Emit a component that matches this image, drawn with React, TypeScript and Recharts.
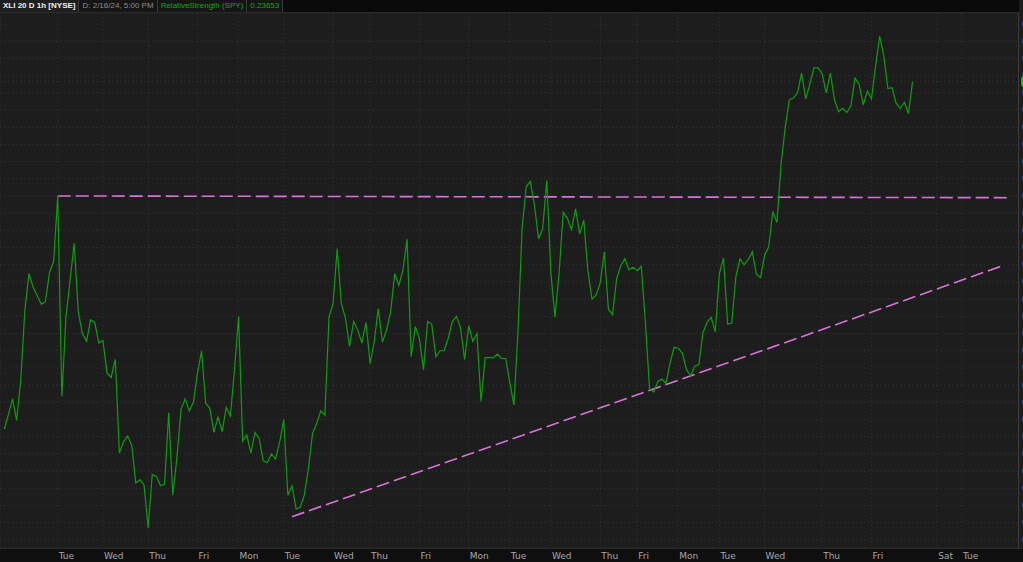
import { LineChart, Line, XAxis, YAxis, CartesianGrid, ReferenceLine } from "recharts"

// XLI / SPY relative strength, 1h bars, 20 days
const rsValues = [
  0.23249, 0.23266, 0.23284, 0.23259, 0.23306, 0.23387, 0.2343, 0.23414, 0.23404, 0.23394,
  0.23397, 0.23431, 0.23444, 0.2352, 0.23287, 0.23379, 0.23422, 0.23465, 0.23385, 0.2336,
  0.23351, 0.23376, 0.23373, 0.23349, 0.23352, 0.23314, 0.23309, 0.2333, 0.23221, 0.23234,
  0.23241, 0.2323, 0.23186, 0.2319, 0.23184, 0.23134, 0.23196, 0.23194, 0.23183, 0.23185,
  0.23268, 0.23172, 0.23216, 0.23272, 0.23284, 0.2327, 0.2328, 0.23314, 0.2334, 0.23279,
  0.23273, 0.23245, 0.23263, 0.23246, 0.23274, 0.23264, 0.23317, 0.2338, 0.23235, 0.23242,
  0.23221, 0.23245, 0.23238, 0.23212, 0.2321, 0.2322, 0.23214, 0.23234, 0.2326, 0.23172,
  0.23183, 0.23156, 0.23158, 0.23172, 0.23203, 0.23244, 0.23255, 0.2327, 0.23265, 0.23379,
  0.23395, 0.23459, 0.23395, 0.23378, 0.23345, 0.23374, 0.23364, 0.23349, 0.23373, 0.23325,
  0.2335, 0.23389, 0.2335, 0.23364, 0.23385, 0.2343, 0.23416, 0.23434, 0.2347, 0.23333,
  0.23368, 0.23354, 0.23318, 0.23374, 0.23371, 0.23333, 0.2334, 0.2334, 0.23354, 0.23374,
  0.2338, 0.23367, 0.2333, 0.23369, 0.23351, 0.2336, 0.23281, 0.23332, 0.23332, 0.23332,
  0.23336, 0.23331, 0.23331, 0.23303, 0.23277, 0.23364, 0.23483, 0.23531, 0.23537, 0.23509,
  0.2347, 0.23482, 0.23538, 0.2343, 0.23379, 0.23431, 0.23501, 0.23494, 0.23481, 0.23505,
  0.23476, 0.23492, 0.23433, 0.234, 0.23405, 0.23419, 0.23455, 0.23388, 0.23382, 0.23424,
  0.23439, 0.23447, 0.23434, 0.23437, 0.23433, 0.23438, 0.23372, 0.23296, 0.23292, 0.23304,
  0.23307, 0.23302, 0.23326, 0.23344, 0.23343, 0.23337, 0.23318, 0.23311, 0.23322, 0.23324,
  0.23361, 0.23373, 0.23379, 0.23362, 0.2343, 0.23448, 0.23371, 0.23372, 0.23426, 0.23447,
  0.2344, 0.23446, 0.23455, 0.23429, 0.23425, 0.23451, 0.23461, 0.23502, 0.23489, 0.23557,
  0.23599, 0.23632, 0.23634, 0.2364, 0.23663, 0.23633, 0.2365, 0.23669, 0.23669, 0.23662,
  0.2364, 0.23663, 0.23632, 0.23618, 0.23622, 0.23617, 0.23625, 0.23657, 0.2365, 0.23626,
  0.23642, 0.23633, 0.23671, 0.23706, 0.23683, 0.23645, 0.23646, 0.23628, 0.23622, 0.23629,
  0.23616, 0.23653,
]

const dayTickIndex = [13, 24, 35, 47, 57, 68, 80, 89, 101, 113, 123, 133, 145, 154, 164, 174, 185, 199, 211, 227, 233]
const dayTickLabel = [
  "Tue", "Wed", "Thu", "Fri", "Mon", "Tue", "Wed", "Thu", "Fri", "Mon", "Tue",
  "Wed", "Thu", "Fri", "Mon", "Tue", "Wed", "Thu", "Fri", "Sat", "Tue",
]

const priceTicks = [
  0.2312, 0.2314, 0.2316, 0.2318, 0.232, 0.2322, 0.2324, 0.2326, 0.2328, 0.233, 0.2332,
  0.2334, 0.2336, 0.2338, 0.234, 0.2342, 0.2344, 0.2346, 0.2348, 0.235, 0.2352, 0.2354,
  0.2356, 0.2358, 0.236, 0.2362, 0.2364, 0.2366, 0.2368, 0.237, 0.2372,
]

const lastValue = 0.23653

// hand-drawn trendlines (bar index, value)
const resistanceLine = [
  { bar: 13, rs: 0.2352 },
  { bar: 245, rs: 0.23518 },
]
const supportLine = [
  { bar: 70, rs: 0.23147 },
  { bar: 243, rs: 0.23439 },
]

const chartData = rsValues.map((rs, bar) => ({ bar, rs }))

const boxStyle = {
  height: 12,
  boxSizing: "border-box" as const,
  borderRight: "1px solid #3a3a3a",
  padding: "0 3px",
  whiteSpace: "nowrap" as const,
}

function DayTick({ x, y, payload }: any) {
  const i = dayTickIndex.indexOf(payload.value)
  return (
    <text x={x + 1} y={y} dy={9} fill="#a8a8a8" fontSize={9} fontFamily="'DejaVu Sans', sans-serif" textAnchor="start">
      {dayTickLabel[i]}
    </text>
  )
}

function PriceTick({ x, y, payload }: any) {
  if (payload.value === lastValue) {
    return (
      <g>
        <rect x={x - 1} y={y - 6} width={44} height={12} rx={4} fill="#12c312" />
        <text x={x + 2} y={y} dy={3.5} fill="#000" fontSize={10} fontFamily="'DejaVu Sans', sans-serif">
          {lastValue.toFixed(4)}
        </text>
      </g>
    )
  }
  return (
    <text x={x} y={y} dy={3.5} fill="#a8a8a8" fontSize={10} fontFamily="'DejaVu Sans', sans-serif" textAnchor="start">
      {payload.value.toFixed(4)}
    </text>
  )
}

export default function App() {
  return (
    <div style={{ position: "fixed", left: 0, top: 0, width: 1023, height: 562, overflow: "hidden", background: "#1d1d1d" }}>
      {/* time axis strip */}
      <div style={{ position: "absolute", left: 0, top: 548, width: 1023, height: 14, background: "#0f0f0f", borderTop: "1px solid #2c2c2c" }} />
      {/* price axis border */}
      <div style={{ position: "absolute", left: 1018, top: 0, width: 1, height: 549, background: "#3a3a3a" }} />
      <div style={{ position: "absolute", left: 0, top: 0 }}>
        <LineChart width={1080} height={562} data={chartData} margin={{ top: 13, right: 0, bottom: 0, left: 0 }}>
          <CartesianGrid stroke="#363636" strokeDasharray="1 3" />
          <XAxis
            dataKey="bar"
            type="number"
            domain={[-1.05, 246.9]}
            ticks={dayTickIndex}
            tick={<DayTick />}
            tickLine={false}
            axisLine={false}
            tickSize={0}
            tickMargin={2}
            height={14}
            allowDataOverflow
            interval={0}
          />
          <YAxis
            orientation="right"
            type="number"
            domain={[0.231106, 0.237328]}
            ticks={[...priceTicks, lastValue]}
            tick={<PriceTick />}
            tickLine={false}
            axisLine={false}
            tickSize={0}
            tickMargin={3}
            width={61}
            allowDataOverflow
            interval={0}
          />
          <ReferenceLine
            segment={[
              { x: resistanceLine[0].bar, y: resistanceLine[0].rs },
              { x: resistanceLine[1].bar, y: resistanceLine[1].rs },
            ]}
            stroke="#d874d8"
            strokeWidth={1.6}
            strokeDasharray="13 5"
            ifOverflow="visible"
          />
          <ReferenceLine
            segment={[
              { x: supportLine[0].bar, y: supportLine[0].rs },
              { x: supportLine[1].bar, y: supportLine[1].rs },
            ]}
            stroke="#d874d8"
            strokeWidth={1.6}
            strokeDasharray="13 5"
            ifOverflow="visible"
          />
          <Line type="linear" dataKey="rs" stroke="#0d9e0d" strokeWidth={1.2} dot={false} isAnimationActive={false} />
        </LineChart>
      </div>
      {/* study header */}
      <div
        style={{
          position: "absolute",
          left: 0,
          top: 0,
          width: 1019,
          height: 12,
          background: "#0a0a0a",
          borderBottom: "1px solid #2a2a2a",
          display: "flex",
          fontFamily: "'Liberation Sans', Arial, sans-serif",
          fontSize: 8,
          lineHeight: "12px",
        }}
      >
        <div style={{ ...boxStyle, color: "#f0f0f0", fontWeight: "bold", background: "#1f1f1f" }}>XLI 20 D 1h [NYSE]</div>
        <div style={{ ...boxStyle, color: "#8c8c8c", background: "#151515" }}>D: 2/16/24, 5:00 PM</div>
        <div style={{ ...boxStyle, color: "#14a814", background: "#151515" }}>RelativeStrength (SPY)</div>
        <div style={{ ...boxStyle, color: "#14a814", background: "#151515" }}>0.23653</div>
      </div>
    </div>
  )
}
